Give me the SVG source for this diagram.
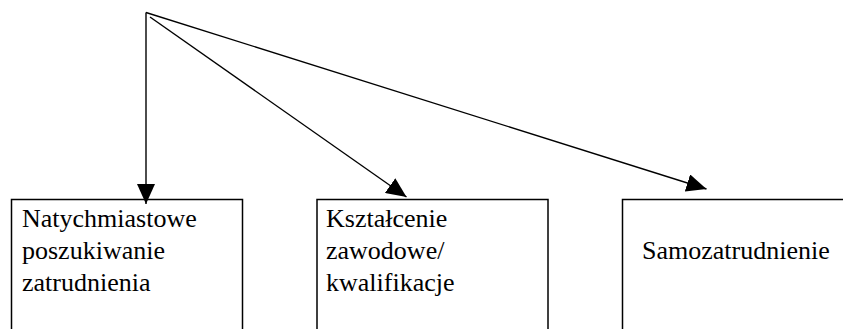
<svg xmlns="http://www.w3.org/2000/svg" width="843" height="329" viewBox="0 0 843 329">
  <style>
    .box { fill: #ffffff; stroke: #000000; stroke-width: 1.5; }
    .label { font-family: 'Liberation Serif', 'Times New Roman', Times, 'DejaVu Serif', serif; font-size: 26px; fill: #000000; }
    .link { fill: none; stroke: #000000; stroke-width: 1.4; marker-end: url(#head); }
  </style>
  <defs>
    <marker id="head" markerUnits="userSpaceOnUse" markerWidth="20" markerHeight="18" refX="20" refY="9" orient="auto">
      <path d="M0,0 L20,9 L0,18 Z" fill="#000000"/>
    </marker>
  </defs>
  <rect width="843" height="329" fill="#ffffff"/>

  <g id="node-natychmiastowe">
    <rect class="box" x="11.5" y="199.5" width="231" height="160"/>
    <text class="label" font-family="Liberation Serif, serif" x="22" y="227">Natychmiastowe</text>
    <text class="label" font-family="Liberation Serif, serif" x="22" y="259">poszukiwanie</text>
    <text class="label" font-family="Liberation Serif, serif" x="22" y="291">zatrudnienia</text>
  </g>

  <g id="node-ksztalcenie">
    <rect class="box" x="317" y="199.5" width="231" height="160"/>
    <text class="label" font-family="Liberation Serif, serif" x="326" y="227">Kształcenie</text>
    <text class="label" font-family="Liberation Serif, serif" x="326" y="259">zawodowe/</text>
    <text class="label" font-family="Liberation Serif, serif" x="326" y="291">kwalifikacje</text>
  </g>

  <g id="node-samozatrudnienie">
    <rect class="box" x="622.5" y="199.5" width="240" height="160"/>
    <text class="label" font-family="Liberation Serif, serif" x="642" y="259">Samozatrudnienie</text>
  </g>

  <g id="connectors">
    <line class="link" x1="146" y1="12.5" x2="146" y2="204"/>
    <line class="link" x1="150" y1="17" x2="406.5" y2="197"/>
    <line class="link" x1="146" y1="12.5" x2="706.5" y2="189"/>
  </g>
</svg>
